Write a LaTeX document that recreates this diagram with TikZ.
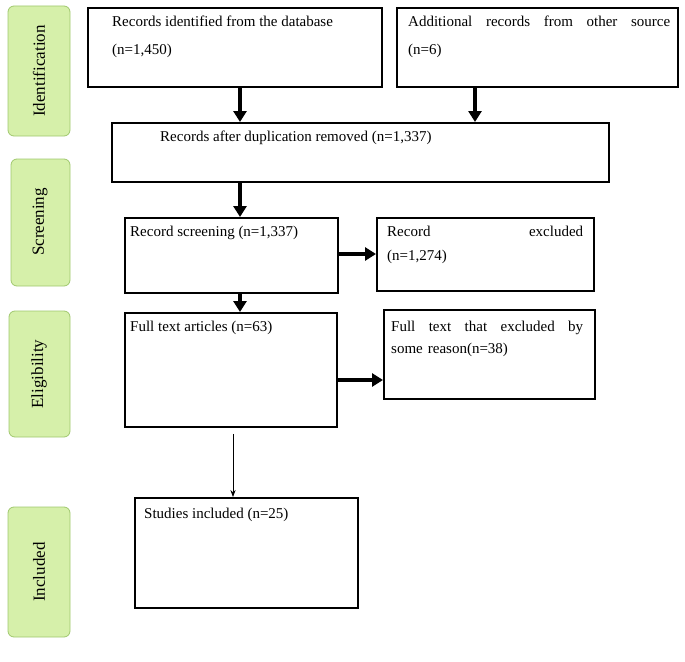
\documentclass[tikz,border=0pt]{standalone}
\usepackage{fontspec}
\setmainfont{Liberation Serif}
\usetikzlibrary{positioning,arrows.meta}
\definecolor{stagefill}{RGB}{214,240,170}
\definecolor{stageedge}{RGB}{160,200,110}
\tikzset{
  box/.style={draw=black, line width=1.8pt, anchor=north west, inner sep=0pt},
  stage/.style={draw=stageedge, fill=stagefill, rounded corners=6pt, line width=0.8pt, anchor=north west},
  stagetxt/.style={rotate=90, font=\fontsize{17}{19}\selectfont},
  txt/.style={anchor=north west, font=\fontsize{15}{18}\selectfont, align=left, inner sep=0pt},
  thick arrow/.style={-{Triangle[length=11pt,width=13pt]}, line width=3.5pt},
  thin arrow/.style={-{Stealth[length=7pt]}, line width=0.8pt}
}
\begin{document}
\begin{tikzpicture}[x=1pt,y=-1pt]
\useasboundingbox (0,0) rectangle (685,661);
% stages
\draw[stage] (8,6) rectangle (70,136);
\node[stagetxt] (sid) at (39,71) {Identification};
\draw[stage] (11,159) rectangle (70,286);
\node[stagetxt] (ssc) at (40,222) {Screening};
\draw[stage] (9,311) rectangle (70,437);
\node[stagetxt] (sel) at (39,374) {Eligibility};
\draw[stage] (8,507) rectangle (70,637);
\node[stagetxt] (sin) at (39,572) {Included};
% boxes
\node[box, minimum width=294, minimum height=79] (db) at (87,7) {};
\node[txt] at (112,16) {Records identified from the database\\[10pt](n=1,450)};
\node[box, minimum width=281, minimum height=79] (other) at (396,7) {};
\node[txt, text width=262] at (408,16) {Additional\hfill records\hfill from\hfill other\hfill source\\[10pt](n=6)};
\node[box, minimum width=497, minimum height=59] (dup) at (111,122) {};
\node[txt] at (160,131) {Records after duplication removed (n=1,337)};
\node[box, minimum width=213, minimum height=75] (scr) at (124,217) {};
\node[txt] at (130,226) {Record screening (n=1,337)};
\node[box, minimum width=217, minimum height=73] (exc) at (376,217) {};
\node[txt, text width=196] at (387,226) {Record\hfill excluded\\[6pt](n=1,274)};
\node[box, minimum width=212, minimum height=114] (full) at (124,312) {};
\node[txt] at (130,321) {Full text articles (n=63)};
\node[box, minimum width=211, minimum height=89] (why) at (383,309) {};
\node[txt, text width=192] at (391,321) {Full\hfill text\hfill that\hfill excluded\hfill by\\[4pt]some reason(n=38)};
\node[box, minimum width=223, minimum height=110] (inc) at (134,497) {};
\node[txt] at (144,508) {Studies included (n=25)};
% arrows
\draw[thick arrow] (db.south -| 240,0) -- (dup.north -| 240,0);
\draw[thick arrow] (other.south -| 475,0) -- (dup.north -| 475,0);
\draw[thick arrow] (dup.south -| 240,0) -- (scr.north -| 240,0);
\draw[thick arrow] (scr.east |- 0,254) -- (exc.west |- 0,254);
\draw[thick arrow] (scr.south -| 240,0) -- (full.north -| 240,0);
\draw[thick arrow] (full.east |- 0,380) -- (why.west |- 0,380);
\draw[thin arrow] ([yshift=-6pt]full.south -| 233,0) -- (inc.north -| 233,0);
\end{tikzpicture}
\end{document}
